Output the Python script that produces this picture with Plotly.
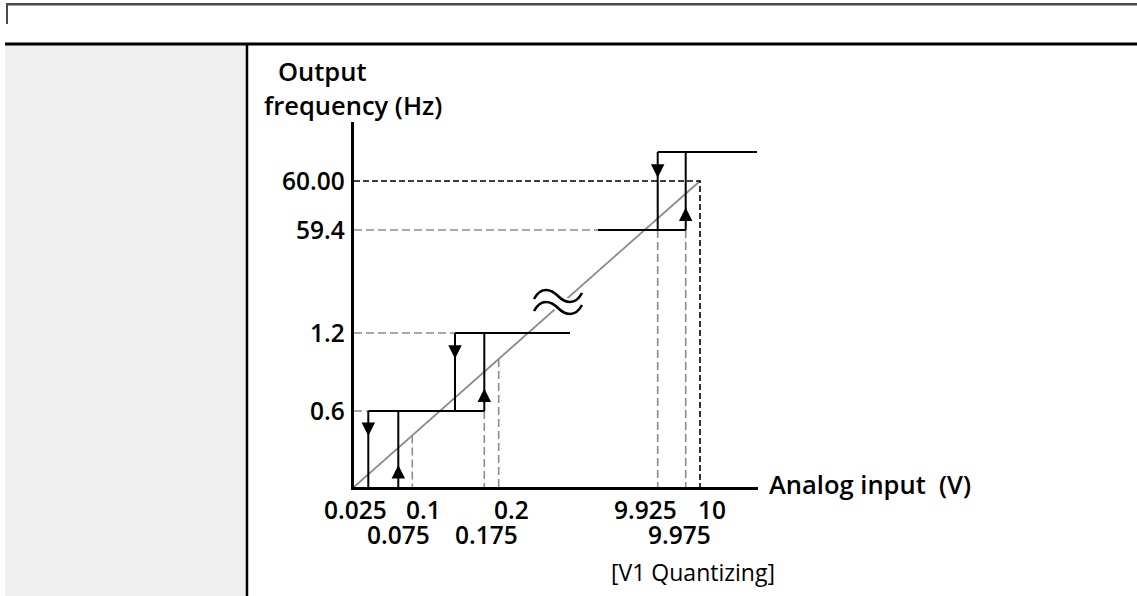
import plotly.graph_objects as go

# ------------------------------------------------------------------ data
# Analog input values (V) marked under the x axis (two label rows)
x_row1_vals = [0.025, 0.1, 0.2, 9.925, 10.0]
x_row1_text = ["0.025", "0.1", "0.2", "9.925", "10"]
x_row2_vals = [0.075, 0.175, 9.975]
x_row2_text = ["0.075", "0.175", "9.975"]

# Output frequency values (Hz) marked left of the y axis
y_tick_vals = [0.6, 1.2, 59.4, 60.0]
y_tick_text = ["0.6", "1.2", "59.4", "60.00"]

# Quantizing hysteresis steps
step_up_v = [0.075, 0.175, 9.975]      # input where the output steps up
step_down_v = [0.025, 0.125, 9.925]    # input where the output steps back down
step_low_hz = [0.0, 0.6, 59.4]
step_high_hz = [0.6, 1.2, 60.0]

# ideal (un-quantized) characteristic end point
max_v = 10.0
max_hz = 60.0

# gray guides dropped from the ideal line / from the step levels
ideal_drop_v = [0.1, 0.2]
level_drop_v = [0.175, 9.925, 9.975]
level_drop_hz = [0.6, 59.4, 59.4]

# ------------------------------------------------------------------ layout (schematic, not to scale)
X_POS = {0.0: 0, 0.025: 14.3, 0.075: 44.3, 0.1: 58.3, 0.125: 101, 0.175: 130.3,
         0.2: 144.7, 9.925: 303.7, 9.975: 331.7, 10.0: 346}
Y_POS = {0.0: 0, 0.6: 76, 1.2: 154, 59.4: 257, 60.0: 306}
TOP_STEP_POS = 335        # last step is drawn above the 60 Hz guide
BREAK_L, BREAK_R = 216, 244
X_LEN, Y_LEN = 404, 365
W, H = 1137, 596
ML, MT = 354, 122
MR = W - ML - X_LEN
MB = H - MT - Y_LEN

BLACK = "#000000"
GRAY = "#8c8c8c"
FONT = "Open Sans"


def X(v):
    return X_POS[v]


def Y(v):
    return Y_POS[v]


def high_pos(k):
    return TOP_STEP_POS if k == len(step_high_hz) - 1 else Y(step_high_hz[k])


def ideal_y(xp):
    return xp * Y(max_hz) / X(max_v)


def px(xpix):   # page pixel -> paper fraction
    return (xpix - ML) / X_LEN


def py(ypix):
    return (H - MB - ypix) / Y_LEN


fig = go.Figure()

# ideal line
fig.add_trace(go.Scatter(x=[0, X(max_v)], y=[0, ideal_y(X(max_v))], mode="lines",
                         line=dict(color=GRAY, width=1.8), hoverinfo="skip"))

# gray dashed guides
gx, gy = [], []
for k in range(2):
    gx += [0, X(step_down_v[k]), None]
    gy += [Y(step_high_hz[k]), Y(step_high_hz[k]), None]
gx += [0, BREAK_R, None]
gy += [Y(step_low_hz[2]), Y(step_low_hz[2]), None]
for v in ideal_drop_v:
    gx += [X(v), X(v), None]
    gy += [ideal_y(X(v)), 0, None]
for v, hz in zip(level_drop_v, level_drop_hz):
    gx += [X(v), X(v), None]
    gy += [Y(hz), 0, None]
fig.add_trace(go.Scatter(x=gx, y=gy, mode="lines",
                         line=dict(color=GRAY, width=1.6, dash="8px,4px"), hoverinfo="skip"))

# black dashed 60 Hz / 10 V guides
fig.add_trace(go.Scatter(x=[0, X(max_v), X(max_v)], y=[Y(max_hz), Y(max_hz), 0], mode="lines",
                         line=dict(color=BLACK, width=1.6, dash="6px,3px"), hoverinfo="skip"))

# quantizing steps
sx, sy = [], []
ax_up, ay_up, ax_dn, ay_dn = [], [], [], []
n = len(step_up_v)
for k in range(n):
    lo = Y(step_low_hz[k])
    hi = high_pos(k)
    # rising edge
    sx += [X(step_up_v[k]), X(step_up_v[k]), None]
    sy += [lo, hi, None]
    # falling edge
    sx += [X(step_down_v[k]), X(step_down_v[k]), None]
    sy += [hi, lo, None]
    # held level
    end = X(step_up_v[k + 1]) if k + 1 < n - 1 else (BREAK_L if k + 1 == n - 1 else X_LEN - 1)
    sx += [X(step_down_v[k]), end, None]
    sy += [hi, hi, None]
    ax_up.append(X(step_up_v[k]))
    ay_up.append(lo + 0.29 * (hi - lo))
    ax_dn.append(X(step_down_v[k]))
    ay_dn.append(lo + 0.67 * (hi - lo))
# low level of the last step, entering from the axis break
sx += [BREAK_R, X(step_up_v[-1]), None]
sy += [Y(step_low_hz[-1]), Y(step_low_hz[-1]), None]
fig.add_trace(go.Scatter(x=sx, y=sy, mode="lines", line=dict(color=BLACK, width=2),
                         hoverinfo="skip"))
fig.add_trace(go.Scatter(x=ax_up, y=ay_up, mode="markers", cliponaxis=False,
                         marker=dict(symbol="arrow-up", size=13.5, color=BLACK), hoverinfo="skip"))
fig.add_trace(go.Scatter(x=ax_dn, y=ay_dn, mode="markers", cliponaxis=False,
                         marker=dict(symbol="arrow-down", size=13.5, color=BLACK), hoverinfo="skip"))

# ------------------------------------------------------------------ break symbol (≈)
cx, cy = 204, 185
HW, A1, A2, E = 24, 10, 7, 3


def pts(dy):
    return [(cx - HW, cy + dy - E), (cx - 17, cy + dy + A1), (cx - 7, cy + dy + A2), (cx, cy + dy),
            (cx + 7, cy + dy - A2), (cx + 17, cy + dy - A1), (cx + HW, cy + dy + E)]


def p(pt):
    return f"{pt[0]},{pt[1]}"


def wave(dy):
    q = pts(dy)
    return f"M {p(q[0])} C {p(q[1])} {p(q[2])} {p(q[3])} C {p(q[4])} {p(q[5])} {p(q[6])}"


top, bot = pts(6), pts(-6)
fill = (f"M {p(top[0])} C {p(top[1])} {p(top[2])} {p(top[3])} C {p(top[4])} {p(top[5])} {p(top[6])} "
        f"L {p(bot[6])} C {p(bot[5])} {p(bot[4])} {p(bot[3])} C {p(bot[2])} {p(bot[1])} {p(bot[0])} Z")
shapes = [
    dict(type="path", xref="x", yref="y", path=fill, fillcolor="white",
         line=dict(color="white", width=7), layer="above"),
    dict(type="path", xref="x", yref="y", path=wave(6), line=dict(color=BLACK, width=2.6),
         layer="above"),
    dict(type="path", xref="x", yref="y", path=wave(-6), line=dict(color=BLACK, width=2.6),
         layer="above"),
]

# ------------------------------------------------------------------ page frame
shapes += [
    dict(type="rect", xref="paper", yref="paper", x0=px(5), x1=px(246), y0=py(45), y1=py(600),
         fillcolor="#efefef", line=dict(width=0), layer="below"),
    dict(type="line", xref="paper", yref="paper", x0=px(6), x1=px(1140), y0=py(4.3), y1=py(4.3),
         line=dict(color="#4a4a4a", width=2.5), layer="below"),
    dict(type="line", xref="paper", yref="paper", x0=px(7), x1=px(7), y0=py(3), y1=py(24),
         line=dict(color="#4a4a4a", width=2), layer="below"),
    dict(type="line", xref="paper", yref="paper", x0=px(5), x1=px(1140), y0=py(44), y1=py(44),
         line=dict(color=BLACK, width=3), layer="below"),
    dict(type="line", xref="paper", yref="paper", x0=px(247), x1=px(247), y0=py(44), y1=py(600),
         line=dict(color=BLACK, width=2.5), layer="below"),
]

# ------------------------------------------------------------------ text
num_font = dict(family=FONT, size=24.5, color=BLACK, weight=600)
word_font = dict(family=FONT, size=25.5, color=BLACK, weight=600)
ann = []
for v, t in zip(y_tick_vals, y_tick_text):
    ann.append(dict(x=0, y=Y(v), xref="x", yref="y", text=t, showarrow=False,
                    xanchor="right", yanchor="middle", xshift=-7, yshift=1, font=num_font))
row1_shift = [-13, 11, 13, -12, 12]
for v, t, s in zip(x_row1_vals, x_row1_text, row1_shift):
    ann.append(dict(x=X(v), y=0, xref="x", yref="y", text=t, showarrow=False,
                    xanchor="center", yanchor="middle", xshift=s, yshift=-22, font=num_font))
row2_shift = [0, 2, -6]
for v, t, s in zip(x_row2_vals, x_row2_text, row2_shift):
    ann.append(dict(x=X(v), y=0, xref="x", yref="y", text=t, showarrow=False,
                    xanchor="center", yanchor="middle", xshift=s, yshift=-47.5, font=num_font))
ann.append(dict(x=px(767), y=py(484), xref="paper", yref="paper", text="Analog input&nbsp;&nbsp;(V)",
                showarrow=False, xanchor="left", yanchor="middle", font=word_font))
ann.append(dict(x=px(276), y=py(71), xref="paper", yref="paper", text="Output",
                showarrow=False, xanchor="left", yanchor="middle", font=word_font))
ann.append(dict(x=px(262), y=py(105.5), xref="paper", yref="paper", text="frequency (Hz)",
                showarrow=False, xanchor="left", yanchor="middle", font=word_font))
ann.append(dict(x=px(693), y=py(571.5), xref="paper", yref="paper", text="[V1 Quantizing]",
                showarrow=False, xanchor="center", yanchor="middle",
                font=dict(family=FONT, size=23, color=BLACK, weight=400)))

fig.update_layout(
    width=W, height=H, autosize=False,
    margin=dict(l=ML, r=MR, t=MT, b=MB, pad=0),
    paper_bgcolor="white", plot_bgcolor="white",
    showlegend=False,
    shapes=shapes, annotations=ann,
    xaxis=dict(range=[0, X_LEN], showgrid=False, zeroline=False, showticklabels=False,
               ticks="", showline=True, linecolor=BLACK, linewidth=2.5, fixedrange=True),
    yaxis=dict(range=[0, Y_LEN], showgrid=False, zeroline=False, showticklabels=False,
               ticks="", showline=True, linecolor=BLACK, linewidth=2.5, fixedrange=True),
)

fig.write_html("out.html", config={"displayModeBar": False},
               post_script="document.body.style.margin='0px';document.body.style.overflow='hidden';")
